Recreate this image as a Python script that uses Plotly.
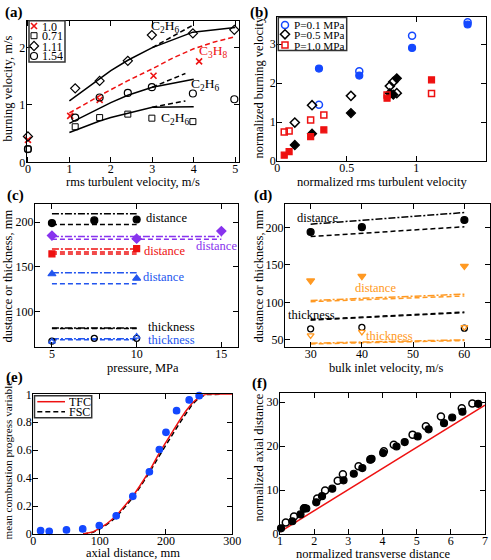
import plotly.graph_objects as go

W, H = 491, 560
FONT = "Liberation Serif"
RED = "#ee1111"
BLUE = "#1448ff"
BLUE_C = "#2255ee"
PURPLE = "#8833ee"
ORANGE = "#ff9922"

# ---------------- (a) burning velocity vs rms turbulent velocity
a_u_diam = [0, 1.14, 1.73, 2.41, 2.99, 3.98, 4.98]
a_sl_diam = [0.45, 1.29, 1.42, 1.77, 2.22, 2.25, 2.31]
a_u_circ = [0, 1.14, 1.73, 2.41, 2.99, 3.98, 4.98]
a_sl_circ = [0.23, 0.78, 1.13, 1.21, 1.31, 1.20, 1.10]
a_u_sq = [0, 1.14, 1.73, 2.41, 2.99, 3.98]
a_sl_sq = [0.23, 0.62, 0.78, 0.84, 0.77, 0.71]
a_u_x = [0, 1.02, 1.73, 3.03, 4.13]
a_sl_x = [0.39, 0.81, 1.09, 1.51, 1.76]
a_top_u = [1.0, 1.73, 2.0, 2.41, 3.0, 3.98, 5.0]
a_top_s = [1.07, 1.45, 1.60, 1.78, 2.0, 2.27, 2.35]
a_topd_u = [3.0, 3.5, 4.0]
a_topd_s = [2.0, 2.2, 2.40]
a_red_u = [1.0, 1.7, 2.4, 3.0, 3.5, 4.0, 4.5, 5.0]
a_red_s = [0.86, 1.15, 1.42, 1.63, 1.82, 1.98, 2.10, 2.19]
a_mid_u = [1.0, 1.73, 2.0, 2.41, 3.0, 4.0]
a_mid_s = [0.68, 0.95, 1.04, 1.17, 1.31, 1.45]
a_midd_u = [3.0, 3.8]
a_midd_s = [1.31, 1.55]
a_bot_u = [1.0, 1.73, 2.0, 2.41, 3.0, 4.0]
a_bot_s = [0.52, 0.72, 0.78, 0.85, 0.96, 0.97]
a_botd_u = [3.0, 3.8]
a_botd_s = [0.96, 1.07]
a_legend = ["1.0", "0.71", "1.11", "1.54"]

# ---------------- (b) normalized
b_u_blue = [0.30, 0.59, 0.97, 1.37]
b_s_blue_open = [1.44, 2.30, 3.21, 3.56]
b_s_blue_fill = [2.37, 2.19, 2.90, 3.50]
b_u_black = [0.126, 0.25, 0.53, 0.81, 0.835, 0.86]
b_s_black_open = [0.985, 1.43, 1.67, 1.92, 2.03, 1.74]
b_s_black_fill = [0.41, 0.70, 1.23, 1.74, 1.70, 2.12]
b_u_red = [0.05, 0.085, 0.24, 0.335, 0.79, 1.11]
b_s_red_open = [0.745, 0.77, 1.05, 1.18, 1.69, 1.73]
b_s_red_fill = [0.15, 0.24, 0.625, 0.80, 1.61, 2.08]
b_legend = ["P=0.1 MPa", "P=0.5 MPa", "P=1.0 MPa"]

# ---------------- (c) vs pressure
c_p3 = [5, 7.5, 10]
c_p2 = [5, 10]
c_p_long = [5, 15]
c_p_purple = [5, 10, 15]
c_black_dist = [199, 202, 203]
c_black_dd = [209.5, 209.5]
c_black_da = [197.5, 197.5]
c_purple_dist = [185, 181.5, 190]
c_purple_dd = [184, 184]
c_purple_da = [181, 181]
c_red_dist = [164.5, 170.5]
c_red_dd = [170, 170]
c_red_da1 = [166.5, 166.5]
c_red_da2 = [164.5, 164.5]
c_blue_dist = [142, 137]
c_blue_dd = [143.3, 143.3]
c_blue_da = [131, 131]
c_black_thk = [67, 70, 70]
c_black_thk_da = [81, 81]
c_black_thk_dd = [81.6, 81.6]
c_blue_thk = [66.5, 72]
c_blue_thk_da = [68.5, 68.5]
c_blue_thk_dd = [69.5, 69.5]

# ---------------- (d) vs bulk inlet velocity
d_v3 = [30, 40, 60]
d_v2 = [30, 60]
d_black_dist = [194, 200.5, 210]
d_black_dd = [204.5, 220]
d_black_da = [188, 201]
d_orange_dist = [129, 135, 148.5]
d_orange_da = [101, 108.5]
d_orange_dd = [102.5, 111]
d_black_thk = [64.7, 66.5, 65.5]
d_black_thk_da = [77, 87]
d_black_thk_dd = [76, 86]
d_orange_thk = [56, 60.5, 67]
d_orange_thk_da = [44.5, 49]
d_orange_thk_dd = [45.5, 50]

# ---------------- (e) mean progress variable
e_x = [11, 24, 50, 74.5, 99.5, 125, 150, 175, 190, 200, 216, 235, 250]
e_c = [0.024, 0.019, 0.029, 0.036, 0.06, 0.13, 0.27, 0.445, 0.605, 0.728, 0.883, 0.96, 0.99]
e_tfc_x = [75, 90, 100, 110, 125, 140, 150, 160, 175, 190, 200, 210, 220, 230, 240, 250, 260, 300]
e_tfc_c = [0, 0.015, 0.04, 0.07, 0.13, 0.21, 0.27, 0.34, 0.45, 0.58, 0.66, 0.74, 0.81, 0.88, 0.94, 0.98, 1.0, 1.0]
e_fsc_x = [75, 90, 100, 110, 125, 140, 150, 160, 175, 190, 200, 210, 220, 230, 240, 250, 260, 285]
e_fsc_c = [0, 0.012, 0.035, 0.065, 0.12, 0.20, 0.26, 0.33, 0.44, 0.56, 0.64, 0.72, 0.79, 0.86, 0.93, 0.975, 0.998, 1.0]

# ---------------- (f) normalized axial vs transverse distance
f_x_fill = [1.03, 1.36, 1.6, 1.72, 1.77, 2.06, 2.23, 2.53, 2.86, 3.16, 3.41, 3.64, 3.68,
            4.02, 4.41, 4.65, 5.03, 5.35, 5.8, 6.04, 6.34, 6.8]
f_y_fill = [1.28, 2.9, 4.45, 5.9, 5.8, 7.2, 8.6, 10.3, 12.2, 13.7, 15.0, 16.9, 17.1,
            18.4, 19.9, 20.9, 22.2, 23.8, 25.2, 26.5, 27.8, 29.6]
f_x_open = [1.17, 1.41, 1.7, 2.09, 2.32, 2.69, 2.84, 3.3, 3.66, 4.04, 4.33, 4.88, 5.27, 5.71, 6.32, 6.63]
f_y_open = [2.6, 4.0, 5.8, 8.1, 9.9, 12.1, 13.6, 15.4, 17.0, 18.8, 20.3, 22.6, 24.5, 26.7, 28.6, 29.7]
f_line_x = [1, 7]
f_line_y = [0.5, 29.3]


def px(x):
    return x / W


def py(y):
    return 1 - y / H


fig = go.Figure()


def sc(n, x, y, mode="markers", marker=None, line=None):
    fig.add_trace(go.Scatter(x=x, y=y, xaxis="x%d" % n, yaxis="y%d" % n, mode=mode,
                             marker=marker, line=line, showlegend=False,
                             cliponaxis=False, hoverinfo="skip"))


def mk(symbol, color, size=7, lw=1.2):
    return dict(symbol=symbol, size=size, color=color, line=dict(color=color, width=lw))


def ln(color, dash="solid", width=1.5):
    return dict(color=color, dash=dash, width=width)


DASH = "5px,3px"
DDOT = "7px,2px,2px,2px"

# (a)
sc(1, a_top_u, a_top_s, "lines", line=ln("black"))
sc(1, a_topd_u, a_topd_s, "lines", line=ln("black", DASH))
sc(1, a_red_u, a_red_s, "lines", line=ln(RED, DASH))
sc(1, a_mid_u, a_mid_s, "lines", line=ln("black"))
sc(1, a_midd_u, a_midd_s, "lines", line=ln("black", DASH))
sc(1, a_bot_u, a_bot_s, "lines", line=ln("black"))
sc(1, a_botd_u, a_botd_s, "lines", line=ln("black", DASH))
sc(1, a_u_x, a_sl_x, marker=mk("x-thin-open", RED, 6, 1.6))
sc(1, a_u_sq, a_sl_sq, marker=mk("square-open", "black", 6, 1))
sc(1, a_u_diam, a_sl_diam, marker=mk("diamond-open", "black", 7, 1.2))
sc(1, a_u_circ, a_sl_circ, marker=mk("circle-open", "black", 7, 1.2))

# (b)
sc(2, b_u_blue, b_s_blue_open, marker=mk("circle-open", BLUE, 7, 1.5))
sc(2, b_u_blue, b_s_blue_fill, marker=mk("circle", BLUE, 7))
sc(2, b_u_black, b_s_black_open, marker=mk("diamond-open", "black", 7, 1.5))
sc(2, b_u_black, b_s_black_fill, marker=mk("diamond", "black", 7))
sc(2, b_u_red, b_s_red_open, marker=mk("square-open", RED, 6, 1.5))
sc(2, b_u_red, b_s_red_fill, marker=mk("square", RED, 6))

# (c)
sc(3, c_p2, c_black_dd, "lines", line=ln("black", DDOT))
sc(3, c_p2, c_black_da, "lines", line=ln("black", DASH))
sc(3, c_p_long, c_purple_dd, "lines", line=ln(PURPLE, DDOT))
sc(3, c_p_long, c_purple_da, "lines", line=ln(PURPLE, DASH))
sc(3, c_p2, c_red_dd, "lines", line=ln(RED, DDOT))
sc(3, c_p2, c_red_da1, "lines", line=ln(RED, DASH))
sc(3, c_p2, c_red_da2, "lines", line=ln(RED, DASH))
sc(3, c_p2, c_blue_dd, "lines", line=ln(BLUE_C, DDOT))
sc(3, c_p2, c_blue_da, "lines", line=ln(BLUE_C, DASH))
sc(3, c_p2, c_black_thk_da, "lines", line=ln("black", DASH))
sc(3, c_p2, c_black_thk_dd, "lines", line=ln("black", DDOT))
sc(3, c_p2, c_blue_thk_da, "lines", line=ln(BLUE_C, DASH))
sc(3, c_p2, c_blue_thk_dd, "lines", line=ln(BLUE_C, DDOT))
sc(3, c_p3, c_black_dist, marker=mk("circle", "black", 7))
sc(3, c_p_purple, c_purple_dist, marker=mk("diamond", PURPLE, 7))
sc(3, c_p2, c_red_dist, marker=mk("square", RED, 6))
sc(3, c_p2, c_blue_dist, marker=mk("triangle-up", BLUE_C, 7))
sc(3, c_p3, c_black_thk, marker=mk("circle-open", "black", 6, 1.3))
sc(3, c_p2, c_blue_thk, marker=mk("triangle-up-open", BLUE_C, 6, 1.3))

# (d)
sc(4, d_v2, d_black_dd, "lines", line=ln("black", DDOT))
sc(4, d_v2, d_black_da, "lines", line=ln("black", DASH))
sc(4, d_v2, d_orange_da, "lines", line=ln(ORANGE, DASH))
sc(4, d_v2, d_orange_dd, "lines", line=ln(ORANGE, DDOT))
sc(4, d_v2, d_black_thk_da, "lines", line=ln("black", DASH))
sc(4, d_v2, d_black_thk_dd, "lines", line=ln("black", DASH, 1))
sc(4, d_v2, d_orange_thk_da, "lines", line=ln(ORANGE, DASH))
sc(4, d_v2, d_orange_thk_dd, "lines", line=ln(ORANGE, DDOT))
sc(4, d_v3, d_black_dist, marker=mk("circle", "black", 7))
sc(4, d_v3, d_orange_dist, marker=mk("triangle-down", ORANGE, 7))
sc(4, d_v3, d_black_thk, marker=mk("circle-open", "black", 6, 1.3))
sc(4, d_v3, d_orange_thk, marker=mk("triangle-down-open", ORANGE, 6, 1.3))

# (e)
sc(5, e_fsc_x, e_fsc_c, "lines", line=ln("black", DASH))
sc(5, e_tfc_x, e_tfc_c, "lines", line=ln(RED))
sc(5, e_x, e_c, marker=mk("circle", BLUE, 6.5))

# (f)
sc(6, f_line_x, f_line_y, "lines", line=ln(RED))
sc(6, f_x_open, f_y_open, marker=mk("circle-open", "black", 7, 1.5))
sc(6, f_x_fill, f_y_fill, marker=mk("circle", "black", 7))

# legend keys on an invisible pixel overlay
sc(7, [34], [26], marker=mk("x-thin-open", RED, 6, 1.6))
sc(7, [34], [35.7], marker=mk("square-open", "black", 6, 1))
sc(7, [34], [46], marker=mk("diamond-open", "black", 7, 1.2))
sc(7, [34], [56], marker=mk("circle-open", "black", 7, 1.2))
sc(7, [285], [25], marker=mk("circle-open", BLUE, 7, 1.5))
sc(7, [285], [34.3], marker=mk("diamond-open", "black", 7, 1.5))
sc(7, [285], [45], marker=mk("square-open", RED, 6, 1.5))
sc(7, [37.3, 65], [401.7, 401.7], "lines", line=ln(RED))
sc(7, [37.3, 65], [411.7, 411.7], "lines", line=ln("black", DASH))

# axes
panels = {
    1: dict(dx=(26.7, 239.3), dy=(20.7, 162.3), xr=[-0.03, 5.1], yr=[0, 2.47],
            xt=[0, 1, 2, 3, 4, 5], yt=[0, 1, 2]),
    2: dict(dx=(277.3, 485.7), dy=(16.7, 161), xr=[0, 1.5], yr=[0, 3.7],
            xt=[0, 0.5, 1, 1.5], yt=[0, 1, 2, 3]),
    3: dict(dx=(35, 238.3), dy=(204.3, 347.3), xr=[4, 16], yr=[60, 220],
            xt=[5, 10, 15], yt=[100, 150, 200]),
    4: dict(dx=(285, 490), dy=(204.3, 347.3), xr=[25, 65], yr=[40, 231],
            xt=[30, 40, 50, 60], yt=[50, 100, 150, 200]),
    5: dict(dx=(33.3, 232.3), dy=(394.3, 534), xr=[0, 300], yr=[0, 1],
            xt=[0, 100, 200, 300], yt=[0, 0.2, 0.4, 0.6, 0.8, 1]),
    6: dict(dx=(280, 485), dy=(393.3, 534), xr=[1, 7], yr=[0, 32],
            xt=[1, 2, 3, 4, 5, 6, 7], yt=[0, 10, 20, 30]),
}
layout = {}
tickfont = dict(family=FONT, size=12, color="black")
for n, p in panels.items():
    common = dict(showline=True, linecolor="black", linewidth=1.2, mirror="ticks",
                  ticks="inside", ticklen=5, tickwidth=1, tickcolor="black",
                  showgrid=False, zeroline=False, tickfont=tickfont, fixedrange=True)
    layout["xaxis%d" % n] = dict(domain=[px(p["dx"][0]), px(p["dx"][1])],
                                 range=p["xr"], tickvals=p["xt"], anchor="y%d" % n,
                                 ticklabelstandoff=-5, **common)
    layout["yaxis%d" % n] = dict(domain=[py(p["dy"][1]), py(p["dy"][0])],
                                 range=p["yr"], tickvals=p["yt"], anchor="x%d" % n,
                                 ticklabelstandoff=-2, **common)
layout["xaxis7"] = dict(domain=[0, 1], range=[0, W], visible=False, anchor="y7", fixedrange=True)
layout["yaxis7"] = dict(domain=[0, 1], range=[H, 0], visible=False, anchor="x7", fixedrange=True)

ann = []


def text(x, y, s, size=12.5, color="black", xanchor="center", xref="paper", yref="paper",
         angle=0, bold=False, height=None):
    if xref == "paper":
        x = px(x)
    if yref == "paper":
        y = py(y)
    if bold:
        s = "<b>%s</b>" % s
    a = dict(x=x, y=y, xref=xref, yref=yref, text=s, showarrow=False,
             xanchor=xanchor, yanchor="middle", textangle=angle,
             font=dict(family=FONT, size=size, color=color))
    if height is not None:
        a["height"] = height
        a["borderpad"] = 0
    ann.append(a)


# panel labels
for lab, x, y in [("(a)", 3, 12.5), ("(b)", 248, 12), ("(c)", 5, 195),
                  ("(d)", 252, 195), ("(e)", 4, 377), ("(f)", 250, 383)]:
    text(x, y, lab, size=15, xanchor="left", bold=True)

# axis titles
text(133, 181.5, "rms turbulent velocity, m/s")
text(7.5, 89, "burning velocity, m/s", angle=-90)
text(381.5, 181.5, "normalized rms turbulent velocity")
text(258.5, 88, "normalized burning velocity", angle=-90)
text(143, 367.5, "pressure, MPa")
text(7.5, 276, "dustance or thickness, mm", angle=-90)
text(386.5, 367.5, "bulk inlet velocity, m/s")
text(258.5, 276, "dustance or thickness, mm", angle=-90)
text(133, 553, "axial distance, mm")
text(7.5, 460, "mean combustion progress variable", size=11.2, angle=-90)
text(373, 553.5, "normalized transverse distance")
text(258.5, 458, "normalized axial distance", angle=-90)

# in-plot labels (a)
C2H6 = "C<sub>2</sub>H<sub>6</sub>"
text(3.31, 2.37, C2H6, size=13.5, xref="x1", yref="y1")
text(4.47, 1.93, "C<sub>3</sub>H<sub>8</sub>", size=13.5, color=RED, xref="x1", yref="y1")
text(4.27, 1.35, C2H6, size=13.5, xref="x1", yref="y1")
text(3.55, 0.77, C2H6, size=13.5, xref="x1", yref="y1")

# in-plot labels (c)
text(10.45, 205, "distance", xanchor="left", xref="x3", yref="y3")
text(10.3, 167.5, "distance", color=RED, xanchor="left", xref="x3", yref="y3")
text(10.25, 138.4, "distance", color=BLUE_C, xanchor="left", xref="x3", yref="y3")
text(13.4, 173.9, "distance", color=PURPLE, xanchor="left", xref="x3", yref="y3")
text(10.55, 82.5, "thickness", xanchor="left", xref="x3", yref="y3")
text(10.55, 68.3, "thickness", color=BLUE_C, xanchor="left", xref="x3", yref="y3")

# in-plot labels (d)
text(27, 212.5, "distance", xanchor="left", xref="x4", yref="y4")
text(38.2, 118.9, "distance", color=ORANGE, xanchor="left", xref="x4", yref="y4")
text(25.2, 83, "thickness", xanchor="left", xref="x4", yref="y4")
text(40.4, 54.5, "thickness", color=ORANGE, xanchor="left", xref="x4", yref="y4")

# legend texts
for s, y in zip(a_legend, [26, 35.7, 46, 56]):
    text(40.5, y, s, size=12, xanchor="left", height=9)
for s, y in zip(b_legend, [25, 34.3, 45]):
    text(292.5, y, s, size=11.2, xanchor="left", height=9)
text(68.3, 401.7, "TFC", size=12, xanchor="left", height=9)
text(68.3, 411.7, "FSC", size=12, xanchor="left", height=9)

shapes = []
for (x0, y0, x1, y1) in [(29, 20.7, 65, 62), (278.3, 17.5, 346.7, 50.5), (34.5, 395.7, 91.7, 417.7)]:
    shapes.append(dict(type="rect", xref="paper", yref="paper", x0=px(x0), x1=px(x1),
                       y0=py(y1), y1=py(y0), line=dict(color="#333333", width=1.5),
                       fillcolor="rgba(255,255,255,0)", layer="above"))

fig.update_layout(width=W, height=H, margin=dict(l=0, r=0, t=0, b=0),
                  paper_bgcolor="white", plot_bgcolor="rgba(0,0,0,0)",
                  template="none", showlegend=False, annotations=ann, shapes=shapes,
                  font=dict(family=FONT, size=12, color="black"), **layout)

fig.write_html("out.html", config={"displayModeBar": False},
               post_script="document.body.style.margin='0';document.body.style.overflow='hidden';")
